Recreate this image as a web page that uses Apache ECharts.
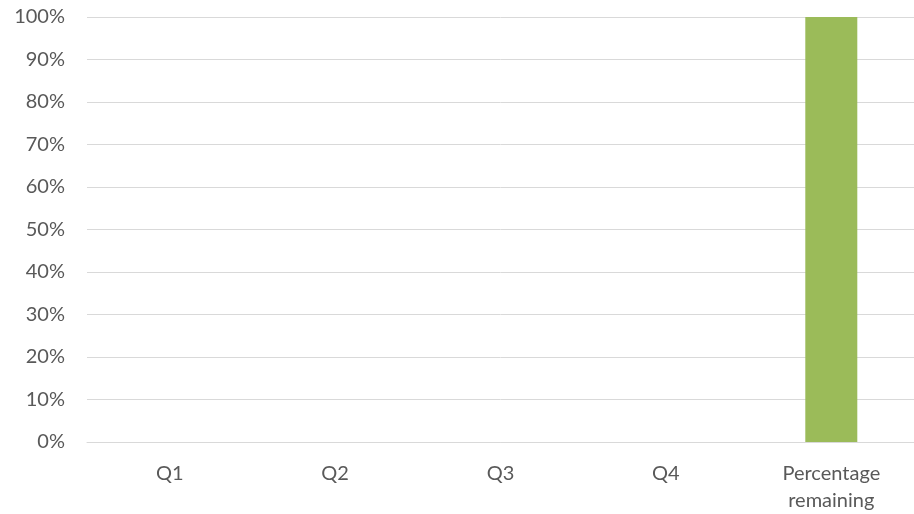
<!DOCTYPE html>
<html>
<head>
<meta charset="utf-8">
<style>
  html, body { margin: 0; padding: 0; background: #fff; }
  #chart { width: 914px; height: 514px; }
</style>
<script src="https://cdn.jsdelivr.net/npm/echarts@6/dist/echarts.min.js"></script>
</head>
<body>
<div id="chart"></div>
<script>
// Quarterly share chart: only the remaining share has a value
const categories = ['Q1', 'Q2', 'Q3', 'Q4', 'Percentage\nremaining'];
const shareValues = [0, 0, 0, 0, 100];
const yTicks = { min: 0, max: 100, interval: 10 };

const chart = echarts.init(document.getElementById('chart'));
const labelFont = 'Lato, "Open Sans", sans-serif';

chart.setOption({
  animation: false,
  grid: { left: 87, right: 0, top: 17, bottom: 71, containLabel: false },
  xAxis: {
    type: 'category',
    data: categories,
    axisLine: { show: true, lineStyle: { color: '#d9d9d9', width: 1 } },
    axisTick: { show: false },
    axisLabel: {
      color: '#595959',
      fontFamily: labelFont,
      fontSize: 20,
      lineHeight: 27,
      margin: 18
    }
  },
  yAxis: {
    type: 'value',
    min: yTicks.min,
    max: yTicks.max,
    interval: yTicks.interval,
    axisLine: { show: false },
    axisTick: { show: false },
    splitLine: { lineStyle: { color: '#d9d9d9', width: 1 } },
    axisLabel: {
      color: '#595959',
      fontFamily: labelFont,
      fontSize: 20,
      margin: 22,
      formatter: '{value}%'
    }
  },
  series: [{
    type: 'bar',
    data: shareValues,
    barWidth: 52,
    itemStyle: { color: '#9bbb59' }
  }]
});
</script>
</body>
</html>
